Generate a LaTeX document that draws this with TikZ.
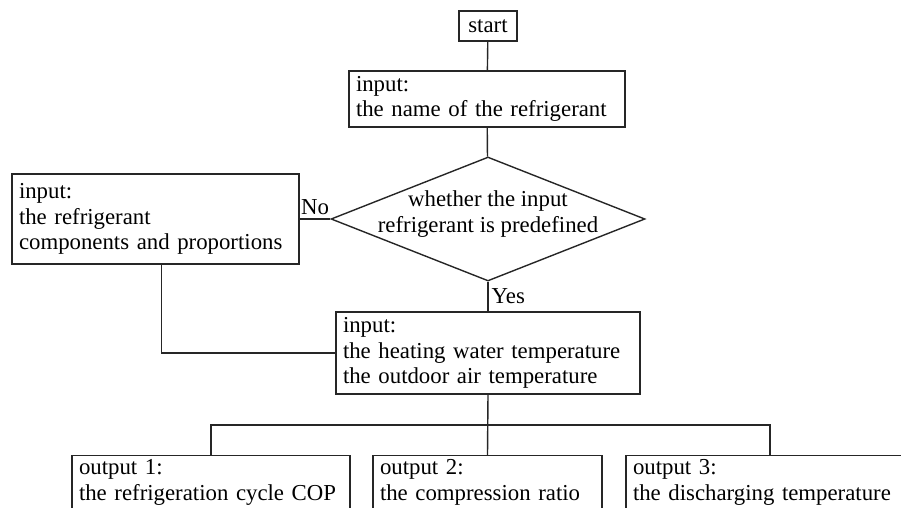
\documentclass[tikz,border=0pt]{standalone}
\usepackage{fontspec}
\setmainfont{Liberation Serif}
\usetikzlibrary{shapes.geometric}
\begin{document}
\begin{tikzpicture}[x=0.5pt,y=-0.5pt]
    \tikzset{every node/.style={font=\fontsize{11.4}{12.8}\selectfont},
      line/.style={draw=black!85, line width=0.7pt},
      box/.style={line, align=left, inner xsep=3.5pt, inner ysep=2pt, text width=#1},
      outbox/.style={box=#1, anchor=north, text depth=30pt},
      decision/.style={line, diamond, minimum width=157pt, minimum height=62pt, inner sep=0pt}}
    \useasboundingbox (0,0) rectangle (901,508);
    \clip (0,0) rectangle (901,508);
    \node[line, minimum width=29pt, minimum height=15pt, inner sep=0pt] (start) at (488,26) {start};
    \node[box=131pt, minimum height=28pt] (name) at (487,99) {input:\\the name of the refrigerant};
    \node[decision, label={[align=center, yshift=2.5pt]center:whether the input\\refrigerant is predefined}] (dec) at (488,219) {};
    \node[box=136.5pt, minimum height=45pt] (comp) at (155.5,219) {input:\\the refrigerant\\components and proportions};
    \node[box=145pt, minimum height=41pt] (temp) at (488,353) {input:\\the heating water temperature\\the outdoor air temperature};
    \node[outbox=132pt] (out1) at (211,455) {output 1:\\the refrigeration cycle COP};
    \node[outbox=107.5pt] (out2) at (487.5,455) {output 2:\\the compression ratio};
    \node[outbox=137pt] (out3) at (770,455) {output 3:\\the discharging temperature};
    \coordinate (bus) at (488,425);
    \draw[line] (start) -- (name);
    \draw[line] (name) -- (dec);
    \draw[line] (comp.east) -- node[above, inner sep=2pt] {No} (dec.west);
    \draw[line] (dec.south) -- node[right, inner sep=1.5pt] {Yes} (temp.north);
    \draw[line] ([xshift=3pt]comp.south) |- (temp.west);
    \draw[line] (temp.south) -- (out2.north);
    \draw[line] (out1.north) |- (bus) -| (out3.north);
\end{tikzpicture}
\end{document}
